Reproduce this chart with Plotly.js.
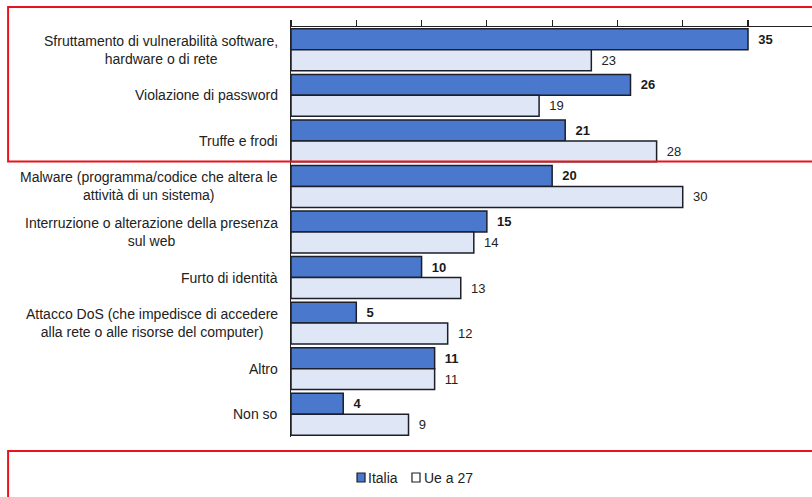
<!DOCTYPE html>
<html>
<head>
<meta charset="utf-8">
<script src="https://cdn.plot.ly/plotly-3.0.1.min.js"></script>
<style>html,body{margin:0;padding:0;background:#fff;}#chart{width:812px;height:497px;}</style>
</head>
<body>
<div id="chart"></div>
<script>
const categories = [
  "Sfruttamento di vulnerabilità software,<br>hardware o di rete",
  "Violazione di password",
  "Truffe e frodi",
  "Malware (programma/codice che altera le<br>attività di un sistema)",
  "Interruzione o alterazione della presenza<br>sul web",
  "Furto di identità",
  "Attacco DoS (che impedisce di accedere<br>alla rete o alle risorse del computer)",
  "Altro",
  "Non so"
];
const seriesNames = ["Italia", "Ue a 27"];
const italia = [35, 26, 21, 20, 15, 10, 5, 11, 4];
const ue27 = [23, 19, 28, 30, 14, 13, 12, 11, 9];
const xTicks = [0, 5, 10, 15, 20, 25, 30, 35];

const FONT = "Liberation Sans, Arial, sans-serif";
const NB = "\u00A0\u00A0";

const traces = [
  {
    type: "bar", orientation: "h", name: seriesNames[0],
    y: categories, x: italia,
    marker: {color: "#4a78cc", line: {color: "#1c1f2a", width: 1.5}},
    text: italia.map(v => NB + v), textposition: "outside",
    textfont: {family: FONT, size: 13, color: "#1a1a1a", weight: 700},
    cliponaxis: false, showlegend: false, hoverinfo: "x"
  },
  {
    type: "bar", orientation: "h", name: seriesNames[1],
    y: categories, x: ue27,
    marker: {color: "#dfe6f5", line: {color: "#1c1f2a", width: 1.5}},
    text: ue27.map(v => NB + v), textposition: "outside",
    textfont: {family: FONT, size: 13, color: "#222222"},
    cliponaxis: false, showlegend: false, hoverinfo: "x"
  }
];

const annotations = categories.map(c => ({
  xref: "paper", yref: "y", x: 0, y: c, xanchor: "right", yanchor: "middle",
  xshift: -11, align: "center", showarrow: false, text: c,
  font: {family: FONT, size: 14, color: "#222"}
}));
annotations.push({
  xref: "paper", yref: "paper", x: 0.1440, y: -0.0988, xanchor: "left", yanchor: "middle",
  showarrow: false, text: seriesNames[0], font: {family: FONT, size: 14, color: "#222"}
});
annotations.push({
  xref: "paper", yref: "paper", x: 0.2515, y: -0.0988, xanchor: "left", yanchor: "middle",
  showarrow: false, text: seriesNames[1], font: {family: FONT, size: 14, color: "#222"}
});

const shapes = [
  {type: "rect", xref: "paper", yref: "paper", x0: -0.543, x1: 1.02, y0: 0.672, y1: 1.049,
   line: {color: "#e8141b", width: 2}, fillcolor: "rgba(0,0,0,0)"},
  {type: "rect", xref: "paper", yref: "paper", x0: -0.543, x1: 1.02, y0: -0.2, y1: -0.034,
   line: {color: "#e8141b", width: 2}, fillcolor: "rgba(0,0,0,0)"},
  {type: "rect", xref: "paper", yref: "paper", x0: 0.1267, x1: 0.1421, y0: -0.1098, y1: -0.0878,
   line: {color: "#1c1f2a", width: 1.2}, fillcolor: "#4a78cc"},
  {type: "rect", xref: "paper", yref: "paper", x0: 0.2322, x1: 0.2476, y0: -0.1098, y1: -0.0878,
   line: {color: "#1c1f2a", width: 1.2}, fillcolor: "#ffffff"}
];

const layout = {
  width: 812, height: 497,
  margin: {l: 291, r: 0, t: 27, b: 60, pad: 0},
  paper_bgcolor: "#fff", plot_bgcolor: "#fff",
  barmode: "group", bargap: 0.08, bargroupgap: 0,
  showlegend: false,
  xaxis: {
    side: "top", range: [0, 39.9], tickvals: xTicks, showticklabels: false,
    ticks: "outside", ticklen: 6, tickwidth: 1.2, tickcolor: "#222",
    showline: true, linecolor: "#222", linewidth: 1.5,
    showgrid: false, zeroline: false, fixedrange: true
  },
  yaxis: {
    type: "category", categoryorder: "array", categoryarray: categories,
    autorange: "reversed", showticklabels: false, ticks: "",
    showline: true, linecolor: "#222", linewidth: 1.5,
    showgrid: false, zeroline: false, fixedrange: true
  },
  annotations: annotations,
  shapes: shapes,
  font: {family: FONT, size: 13, color: "#222"}
};

Plotly.newPlot("chart", traces, layout, {displayModeBar: false, staticPlot: true});
</script>
</body>
</html>
